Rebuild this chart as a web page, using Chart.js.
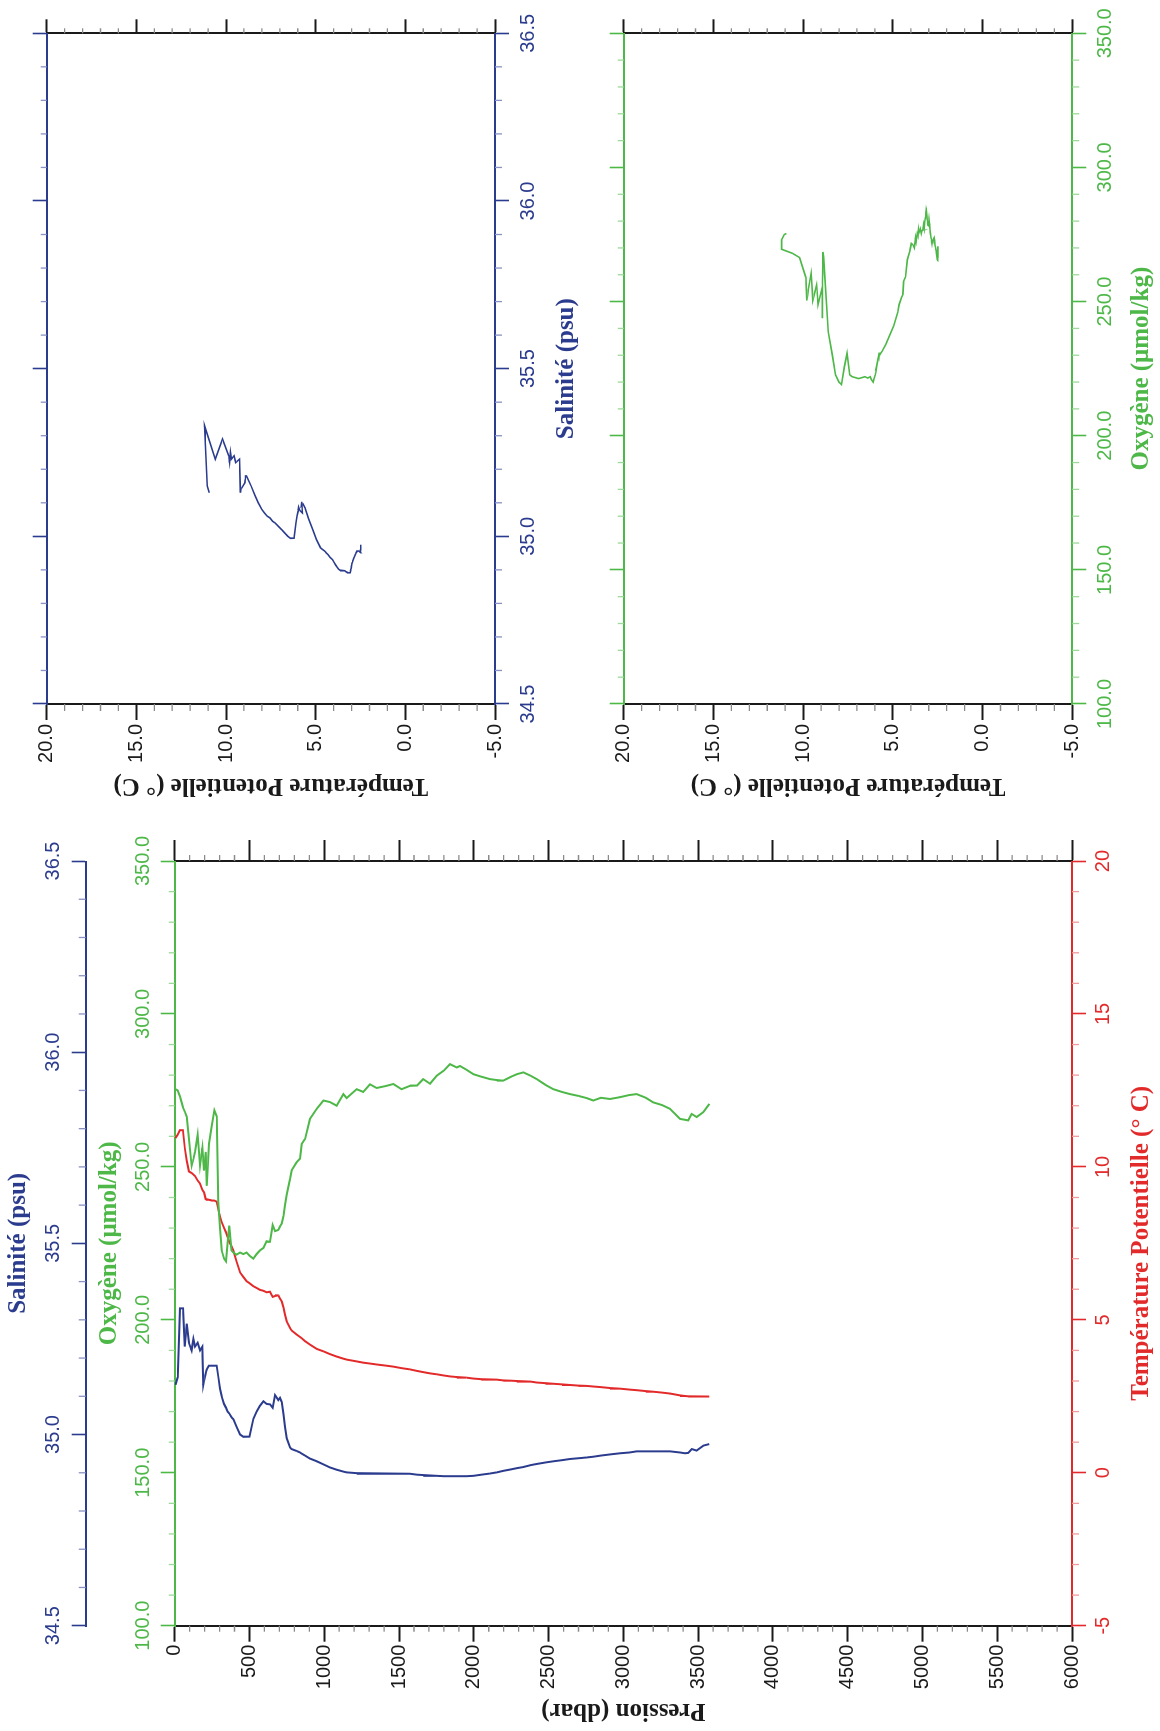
<!DOCTYPE html>
<html lang="fr">
<head>
<meta charset="utf-8">
<title>Profil CTD - Salinité, Oxygène, Température</title>
<script src="https://cdn.jsdelivr.net/npm/chart.js@4.4.1/dist/chart.umd.min.js"></script>
<style>
    html, body { margin: 0; padding: 0; background: #fff; overflow: hidden; }
    body { width: 1160px; height: 1731px; position: relative; }
    /* la figure est dessinée en paysage puis tournée d'un quart de tour */
    #page {
        position: absolute; left: 0; top: 0;
        width: 1731px; height: 1160px;
        transform-origin: 0 0;
        transform: translate(0, 1731px) rotate(-90deg);
    }
    canvas { position: absolute; }
    #profil { left: 0; top: 0; }
    #ts { left: 905px; top: 0; }
    #to { left: 905px; top: 590px; }
</style>
</head>
<body>
<div id="page">
    <canvas id="profil" width="900" height="1160"></canvas>
    <canvas id="ts" width="826" height="590"></canvas>
    <canvas id="to" width="826" height="570"></canvas>
</div>
<script>
// Données (même grille de pression pour les trois variables)
const pression = [5, 20, 35, 55, 68, 80, 95, 113, 125, 136, 154, 169, 185, 191, 196, 207, 214, 229, 247, 265,
    281, 292, 303, 314, 330, 343, 354, 365, 380, 392, 414, 437, 459, 481, 500, 526, 548, 570, 593, 615,
    637, 655, 671, 693, 704, 716, 727, 738, 749, 771, 782, 815, 838, 849, 872, 905, 950, 994, 1038, 1083,
    1128, 1150, 1217, 1261, 1306, 1350, 1417, 1462, 1517, 1573, 1620, 1662, 1707, 1752, 1800, 1841, 1886, 1908, 1950, 1997,
    2050, 2108, 2153, 2197, 2250, 2287, 2331, 2380, 2421, 2480, 2532, 2590, 2643, 2700, 2755, 2799, 2850, 2911, 2978, 3040,
    3089, 3150, 3200, 3260, 3312, 3379, 3412, 3434, 3457, 3490, 3535, 3575];

const temperature = [10.94, 11.05, 11.20, 11.20, 10.60, 10.20, 9.85, 9.80, 9.75, 9.70, 9.55, 9.46, 9.25, 9.20, 9.17, 8.95, 8.93, 8.92, 8.90, 8.90,
    8.86, 8.60, 8.37, 8.20, 8.00, 7.86, 7.70, 7.55, 7.40, 7.27, 6.90, 6.55, 6.40, 6.26, 6.20, 6.10, 6.04, 5.98, 5.95, 5.90,
    5.92, 5.75, 5.78, 5.80, 5.70, 5.60, 5.40, 5.17, 4.95, 4.73, 4.65, 4.52, 4.44, 4.40, 4.30, 4.19, 4.05, 3.97, 3.88, 3.80,
    3.73, 3.70, 3.64, 3.60, 3.57, 3.54, 3.50, 3.47, 3.42, 3.38, 3.33, 3.29, 3.25, 3.22, 3.18, 3.15, 3.13, 3.12, 3.10, 3.08,
    3.06, 3.05, 3.04, 3.02, 3.01, 3.00, 2.99, 2.97, 2.95, 2.93, 2.91, 2.89, 2.87, 2.85, 2.84, 2.82, 2.80, 2.77, 2.75, 2.72,
    2.70, 2.67, 2.65, 2.62, 2.59, 2.53, 2.51, 2.50, 2.50, 2.49, 2.49, 2.49];

const salinite = [35.13, 35.15, 35.33, 35.33, 35.23, 35.29, 35.24, 35.22, 35.25, 35.23, 35.24, 35.22, 35.23, 35.13, 35.14, 35.16, 35.17, 35.18, 35.18, 35.18,
    35.18, 35.15, 35.12, 35.10, 35.08, 35.07, 35.06, 35.055, 35.045, 35.04, 35.02, 35.00, 34.994, 34.994, 34.995, 35.041, 35.06, 35.075, 35.087, 35.08,
    35.079, 35.07, 35.103, 35.09, 35.096, 35.085, 35.053, 35.02, 34.99, 34.966, 34.962, 34.957, 34.953, 34.950, 34.945, 34.937, 34.930, 34.922, 34.914, 34.908,
    34.903, 34.901, 34.899, 34.897, 34.897, 34.898, 34.898, 34.898, 34.897, 34.897, 34.895, 34.894, 34.892, 34.892, 34.891, 34.891, 34.891, 34.891, 34.891, 34.892,
    34.895, 34.898, 34.901, 34.905, 34.909, 34.912, 34.915, 34.920, 34.923, 34.927, 34.930, 34.933, 34.936, 34.938, 34.940, 34.942, 34.945, 34.948, 34.951, 34.953,
    34.956, 34.956, 34.956, 34.956, 34.956, 34.953, 34.951, 34.952, 34.962, 34.958, 34.971, 34.975];

const oxygene = [275.4, 275.0, 273.0, 269.5, 268.0, 266.4, 259.0, 250.4, 252.5, 254.9, 260.5, 250.4, 256.2, 252.0, 248.8, 254.9, 243.8, 257.6, 263.4, 268.5,
    266.5, 238.7, 230.0, 222.7, 220.0, 219.1, 225.7, 230.8, 222.7, 222.0, 221.3, 222.0, 221.5, 222.0, 221.0, 220.0, 221.5, 222.7, 223.5, 225.7,
    225.5, 231.0, 229.0, 229.4, 230.5, 231.5, 234.0, 237.5, 241.0, 246.0, 248.9, 251.5, 252.7, 257.5, 259.2, 265.7, 269.0, 271.7, 271.2, 270.0,
    273.8, 272.5, 275.4, 274.5, 277.0, 275.8, 276.5, 277.1, 275.4, 276.5, 276.6, 278.7, 277.2, 279.8, 281.5, 283.6, 282.5, 283.0, 281.8, 280.3,
    279.5, 278.7, 278.4, 278.2, 279.5, 280.3, 280.9, 279.8, 278.7, 276.8, 275.4, 274.5, 273.8, 273.2, 272.5, 271.7, 272.6, 272.2, 272.8, 273.5,
    273.8, 272.6, 271.1, 270.2, 269.0, 265.7, 265.4, 265.2, 267.3, 266.3, 267.9, 270.6];

// bornes des axes : [min, max, pas majeur, pas mineur]
const axePression = [0, 6000, 500, 100];
const axeSalinite = [34.5, 36.5, 0.5, 0.1];
const axeOxygene = [100, 350, 50, 10];
const axeTemperature = [-5, 20, 5, 1];

const BLEU = '#2b3c8e';
const VERT = '#4db848';
const ROUGE = '#e32a2b';
const NOIR = '#1a1a1a';
const MINEUR = { [BLEU]: '#8a93c4', [VERT]: '#9ed89a', [ROUGE]: '#f09a9a', [NOIR]: '#8a8a8a' };

const TICK_FONT = { family: "'Liberation Sans', Arial, sans-serif", size: 20 };
const TITLE_FONT = { family: "'Liberation Serif', 'Times New Roman', serif", size: 25, weight: 'bold' };

function axe(o) {
    const [min, max, step] = o.bornes;
    return {
        type: 'linear',
        axis: (o.pos === 'left' || o.pos === 'right') ? 'y' : 'x',
        position: o.pos,
        min: min, max: max,
        reverse: !!o.reverse,
        weight: o.weight || 0,
        border: { display: true, color: o.color, width: 2 },
        grid: { display: true, drawOnChartArea: false, drawTicks: true, tickLength: o.len, tickColor: o.color, tickWidth: o.color === NOIR ? 2 : 1.6 },
        ticks: {
            display: !!o.fmt, stepSize: step, padding: o.pad || 4, color: o.color, font: TICK_FONT,
            autoSkip: false, minRotation: 0, maxRotation: 0,
            callback: v => o.fmt ? o.fmt(v) : ''
        },
        title: o.title
            ? { display: true, text: o.title, color: o.titleColor || o.color, font: TITLE_FONT, padding: { top: o.titlePad, bottom: o.titlePad } }
            : { display: false },
        afterFit: s => { if (s.isHorizontal()) s.height = o.size; else s.width = o.size; }
    };
}

// petites graduations intermédiaires
function graduations(liste) {
    return {
        id: 'graduations',
        afterDraw(chart) {
            const ctx = chart.ctx;
            liste.forEach(g => {
                const s = chart.scales[g.id];
                const [min, max, major, minor] = g.bornes;
                const n = Math.round((max - min) / minor);
                const every = Math.round(major / minor);
                ctx.save();
                ctx.strokeStyle = MINEUR[g.color];
                ctx.lineWidth = 1.3;
                ctx.beginPath();
                for (let i = 1; i < n; i++) {
                    if (i % every === 0) continue;
                    const px = s.getPixelForValue(min + i * minor);
                    if (s.position === 'left') { ctx.moveTo(s.right, px); ctx.lineTo(s.right - g.len, px); }
                    else if (s.position === 'right') { ctx.moveTo(s.left, px); ctx.lineTo(s.left + g.len, px); }
                    else if (s.position === 'top') { ctx.moveTo(px, s.bottom); ctx.lineTo(px, s.bottom - g.len); }
                    else { ctx.moveTo(px, s.top); ctx.lineTo(px, s.top + g.len); }
                }
                ctx.stroke();
                ctx.restore();
            });
        }
    };
}

const f0 = v => String(Math.round(v));
const f1 = v => v.toFixed(1);

function serie(xs, ys, color, width) {
    return xs.map((x, i) => ({ x: x, y: ys[i] }));
}

const communes = {
    responsive: false,
    maintainAspectRatio: false,
    animation: false,
    devicePixelRatio: 1,
    layout: { padding: 0, autoPadding: false },
    plugins: { legend: { display: false }, tooltip: { enabled: false } }
};

// Profil vertical : salinité, oxygène et température en fonction de la pression
new Chart(document.getElementById('profil'), {
    type: 'scatter',
    data: {
        datasets: [
            { data: serie(salinite, pression), xAxisID: 'xS', yAxisID: 'yP', showLine: true, pointRadius: 0, borderColor: BLEU, borderWidth: 2 },
            { data: serie(oxygene, pression), xAxisID: 'xO', yAxisID: 'yP', showLine: true, pointRadius: 0, borderColor: VERT, borderWidth: 2 },
            { data: serie(temperature, pression), xAxisID: 'xT', yAxisID: 'yP', showLine: true, pointRadius: 0, borderColor: ROUGE, borderWidth: 2 }
        ]
    },
    options: Object.assign({}, communes, {
        scales: {
            yP: axe({ pos: 'left', bornes: axePression, reverse: true, color: NOIR, len: 16, pad: 3, size: 105.3, fmt: f0, title: 'Pression (dbar)', titlePad: 6 }),
            yP2: axe({ pos: 'right', bornes: axePression, reverse: true, color: NOIR, len: 21, size: 26.7 }),
            xS: axe({ pos: 'top', weight: 1, bornes: axeSalinite, color: BLEU, len: 14, pad: 6, size: 85.7, fmt: f1, title: 'Salinité (psu)', titlePad: 4 }),
            xO: axe({ pos: 'top', weight: 0, bornes: axeOxygene, color: VERT, len: 14, pad: 5, size: 89, fmt: f1, title: 'Oxygène (μmol/kg)', titlePad: 9 }),
            xT: axe({ pos: 'bottom', bornes: axeTemperature, color: ROUGE, len: 14, pad: 5, size: 88, fmt: f0, title: 'Température Potentielle (° C)', titlePad: 3 })
        }
    }),
    plugins: [graduations([
        { id: 'yP', bornes: axePression, color: NOIR, len: 6 },
        { id: 'yP2', bornes: axePression, color: NOIR, len: 6 },
        { id: 'xS', bornes: axeSalinite, color: BLEU, len: 7 },
        { id: 'xO', bornes: axeOxygene, color: VERT, len: 6 },
        { id: 'xT', bornes: axeTemperature, color: ROUGE, len: 7 }
    ])]
});

// Diagramme température - salinité
new Chart(document.getElementById('ts'), {
    type: 'scatter',
    data: {
        datasets: [
            { data: serie(salinite, temperature), xAxisID: 'xS', yAxisID: 'yT', showLine: true, pointRadius: 0, borderColor: BLEU, borderWidth: 1.6 }
        ]
    },
    options: Object.assign({}, communes, {
        scales: {
            yT: axe({ pos: 'left', bornes: axeTemperature, color: NOIR, len: 16, pad: 4, size: 122, fmt: f1, title: 'Température Potentielle (° C)', titlePad: 26 }),
            yT2: axe({ pos: 'right', bornes: axeTemperature, color: NOIR, len: 14, size: 33.3 }),
            xS: axe({ pos: 'bottom', bornes: axeSalinite, color: BLEU, len: 14, pad: 7, size: 95, fmt: f1, title: 'Salinité (psu)', titlePad: 8 }),
            xS2: axe({ pos: 'top', bornes: axeSalinite, color: BLEU, len: 14, size: 46.7 })
        }
    }),
    plugins: [graduations([
        { id: 'yT', bornes: axeTemperature, color: NOIR, len: 7 },
        { id: 'yT2', bornes: axeTemperature, color: NOIR, len: 5 },
        { id: 'xS', bornes: axeSalinite, color: BLEU, len: 7 },
        { id: 'xS2', bornes: axeSalinite, color: BLEU, len: 6 }
    ])]
});

// Diagramme température - oxygène
new Chart(document.getElementById('to'), {
    type: 'scatter',
    data: {
        datasets: [
            { data: serie(oxygene, temperature), xAxisID: 'xO', yAxisID: 'yT', showLine: true, pointRadius: 0, borderColor: VERT, borderWidth: 1.6 }
        ]
    },
    options: Object.assign({}, communes, {
        scales: {
            yT: axe({ pos: 'left', bornes: axeTemperature, color: NOIR, len: 16, pad: 4, size: 122, fmt: f1, title: 'Température Potentielle (° C)', titlePad: 26 }),
            yT2: axe({ pos: 'right', bornes: axeTemperature, color: NOIR, len: 14, size: 33.3 }),
            xO: axe({ pos: 'bottom', bornes: axeOxygene, color: VERT, len: 14, pad: 7, size: 87.7, fmt: f1, title: 'Oxygène (μmol/kg)', titlePad: 3 }),
            xO2: axe({ pos: 'top', bornes: axeOxygene, color: VERT, len: 14, size: 33.7 })
        }
    }),
    plugins: [graduations([
        { id: 'yT', bornes: axeTemperature, color: NOIR, len: 7 },
        { id: 'yT2', bornes: axeTemperature, color: NOIR, len: 5 },
        { id: 'xO', bornes: axeOxygene, color: VERT, len: 7 },
        { id: 'xO2', bornes: axeOxygene, color: VERT, len: 6 }
    ])]
});
</script>
</body>
</html>
